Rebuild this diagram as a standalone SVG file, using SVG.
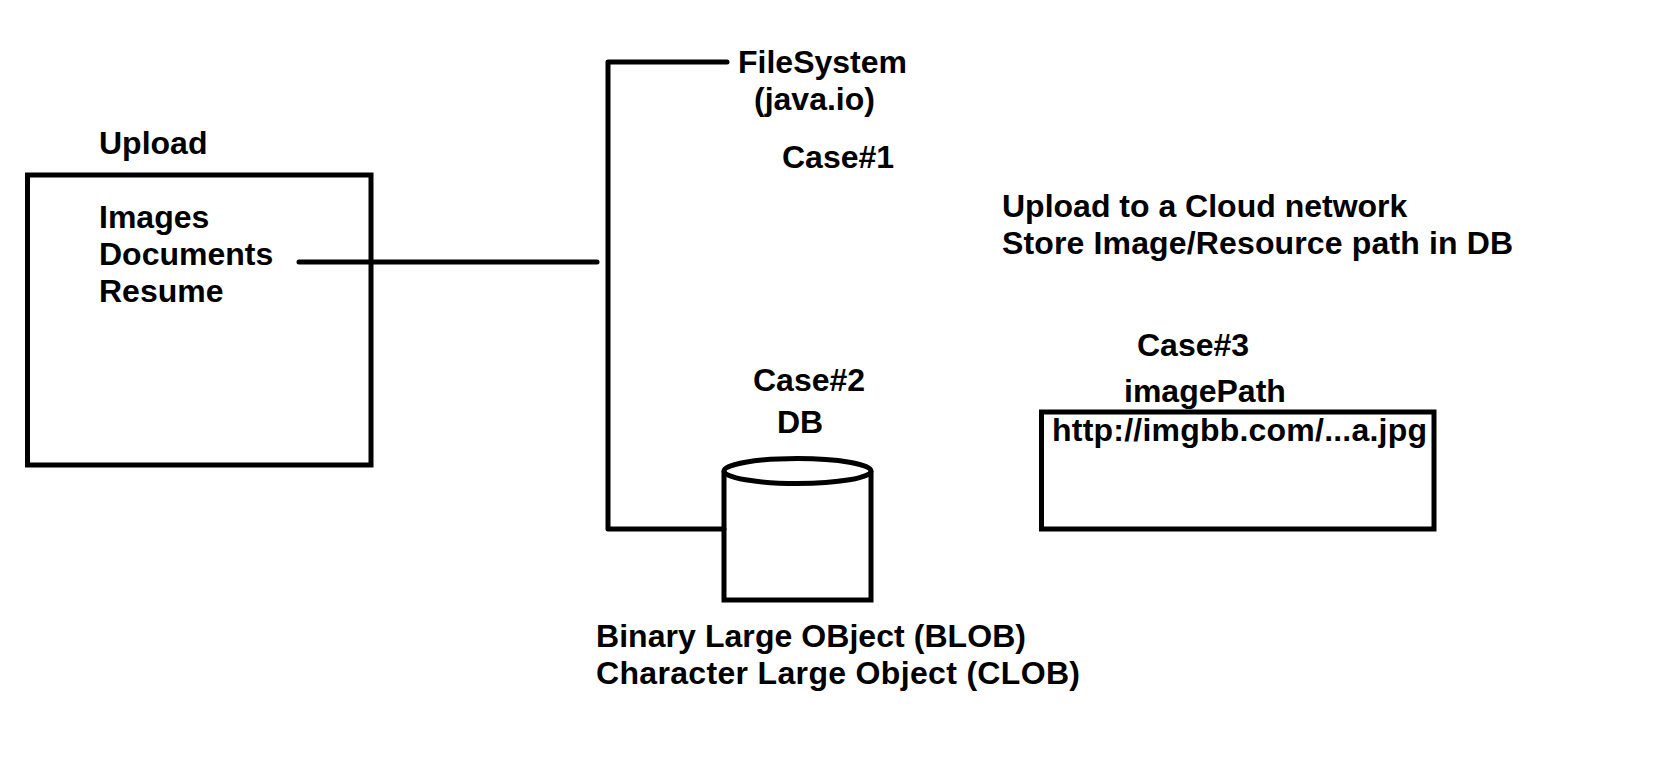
<svg xmlns="http://www.w3.org/2000/svg" width="1658" height="772" viewBox="0 0 1658 772">
<style>
.t{font-family:"Liberation Sans",Arial,sans-serif;font-weight:bold;font-size:32px;fill:#000}
.s{fill:none;stroke:#000;stroke-width:5}
.c{fill:none;stroke:#000;stroke-width:5;stroke-linecap:round;stroke-linejoin:round}
</style>
<rect width="1658" height="772" fill="#fff"/>
<g id="upload">
<text class="t" x="99" y="154">Upload</text>
<rect class="s" x="27.5" y="175" width="343.5" height="290"/>
<text class="t" x="99" y="228">Images</text>
<text class="t" x="99" y="265">Documents</text>
<text class="t" x="99" y="302">Resume</text>
</g>
<g id="filesystem">
<text class="t" x="738" y="73">FileSystem</text>
<text class="t" x="754" y="110">(java.io)</text>
<text class="t" x="782" y="168">Case#1</text>
</g>
<g id="db">
<text class="t" x="753" y="391">Case#2</text>
<text class="t" x="777" y="433">DB</text>
<path class="s" d="M724,471 L724,600 L871,600 L871,471"/>
<ellipse class="s" cx="797.5" cy="471" rx="73.5" ry="12.5"/>
<text class="t" x="596" y="647" textLength="430">Binary Large OBject (BLOB)</text>
<text class="t" x="596" y="684" textLength="484">Character Large Object (CLOB)</text>
</g>
<g id="cloud">
<text class="t" x="1002" y="217">Upload to a Cloud network</text>
<text class="t" x="1002" y="254" textLength="511">Store Image/Resource path in DB</text>
<text class="t" x="1137" y="356">Case#3</text>
<text class="t" x="1124" y="402">imagePath</text>
<rect class="s" x="1041.5" y="412" width="392.5" height="117"/>
<text class="t" x="1052" y="441" textLength="375">http://imgbb.com/...a.jpg</text>
</g>
<g id="connectors">
<line class="c" x1="299" y1="262" x2="597" y2="262"/>
<polyline class="c" points="727,62 608,62 608,529 724,529"/>
</g>
</svg>
